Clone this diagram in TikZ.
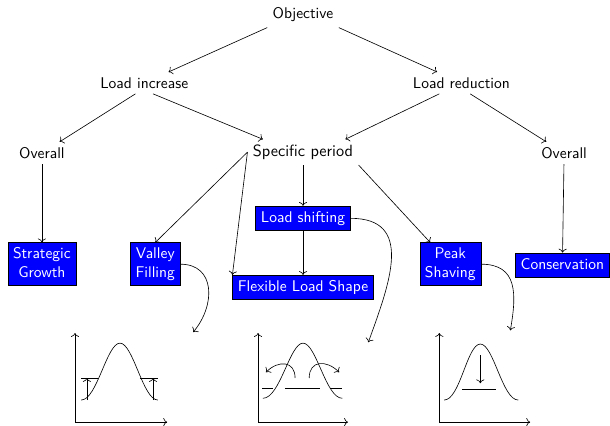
\documentclass[tikz,border=0pt]{standalone}
\usepackage{tikz}
\renewcommand{\familydefault}{\sfdefault}
\usetikzlibrary{positioning}
\usetikzlibrary{arrows.meta}

\tikzset{
  goalbox/.style={draw=black, fill=blue, text=white, align=center, text depth=.2em},
  curvearrow/.style={->, out=0, looseness=1.3}
}

\begin{document}
\begin{tikzpicture}
  \useasboundingbox (0,0) rectangle (13.83,9.64);

  % Tree
  \node (obj) at (6.87,9.30) {Objective};
  \node (li) at (3.27,7.76) {Load increase};
  \node (lr) at (10.46,7.76) {Load reduction};
  \node (ovl) at (0.95,6.17) {Overall};
  \node[font=\fontsize{10.5}{12}\selectfont] (sp) at (6.87,6.19) {Specific period};
  \node (ovr) at (12.79,6.17) {Overall};

  % Measures
  \node[goalbox] (sg) at (0.95,3.65) {Strategic\\Growth};
  \node[goalbox] (vf) at (3.52,3.65) {Valley\\Filling};
  \node[goalbox] (ls) at (6.87,4.69) {Load shifting};
  \node[goalbox, below=1.0cm of ls] (fls) {Flexible Load Shape};
  \node[goalbox] (ps) at (10.21,3.65) {Peak\\Shaving};
  \node[goalbox] (cons) at (12.75,3.63) {Conservation};

  % Edges
  \draw[->] (obj.south west) -- (li);
  \draw[->] (obj.south east) -- (lr);
  \draw[->] ([xshift=-2mm]li.south) -- (ovl);
  \draw[->] ([xshift=2mm]li.south) -- ([xshift=3.5mm]sp.north west);
  \draw[->] ([xshift=-5mm]lr.south) -- ([xshift=-3mm]sp.north east);
  \draw[->] ([xshift=2mm]lr.south) -- (ovr);
  \draw[->] (ovl) -- (sg);
  \draw[->] (sp.west) -- (vf.north);
  \draw[->] (sp.west) -- (fls.north west);
  \draw[->] (sp) -- (ls);
  \draw[->] (sp.south east) -- (ps);
  \draw[->] (ls) -- (fls);
  \draw[->] (ovr) -- (cons);

  % Curved pointers to the graphs
  \coordinate (vfend) at (4.38,2.11);
  \coordinate (lsend) at (8.35,1.88);
  \coordinate (psend) at (11.57,2.15);
  \draw[curvearrow, in=50] (vf.east) to (vfend);
  \draw[curvearrow, in=70] (ls.east) to (lsend);
  \draw[curvearrow, in=80] (ps.east) to (psend);

  % Valley filling graph
  \begin{scope}[shift={(1.70,0.07)}]
    \draw[<->] (0,2.02) -- (0,0) -- (2.09,0);
    \draw (0.14,0.50) .. controls (0.50,0.50) and (0.72,1.79) .. (1.02,1.79)
      .. controls (1.32,1.79) and (1.54,0.50) .. (1.88,0.50);
    \draw (0.14,1.00) -- (0.52,1.00);
    \draw (1.47,1.00) -- (1.88,1.00);
    \draw[->] (0.27,0.50) -- (0.27,1.00);
    \draw[->] (1.77,0.50) -- (1.77,1.00);
  \end{scope}

  % Load shifting graph
  \begin{scope}[shift={(5.85,0.07)}]
    \draw[<->] (0,2.02) -- (0,0) -- (2.04,0);
    \draw (0.11,0.54) .. controls (0.50,0.54) and (0.72,1.79) .. (1.02,1.79)
      .. controls (1.32,1.79) and (1.54,0.54) .. (1.91,0.54);
    \draw (0.09,0.77) -- (0.34,0.77);
    \draw (0.61,0.77) -- (1.41,0.77);
    \draw (1.63,0.77) -- (1.91,0.77);
    \draw[->] (0.84,1.00) to[out=90, in=45, looseness=1.5] (0.18,1.13);
    \draw[->] (1.16,1.00) to[out=90, in=135, looseness=1.5] (1.84,1.13);
  \end{scope}

  % Peak shaving graph
  \begin{scope}[shift={(9.96,0.07)}]
    \draw[<->] (0,2.02) -- (0,0) -- (2.06,0);
    \draw (0.11,0.50) .. controls (0.47,0.50) and (0.63,1.77) .. (0.93,1.77)
      .. controls (1.23,1.77) and (1.43,0.50) .. (1.79,0.50);
    \draw (0.52,0.75) -- (1.29,0.75);
    \draw[->] (0.93,1.52) -- (0.93,0.88);
  \end{scope}
\end{tikzpicture}
\end{document}
